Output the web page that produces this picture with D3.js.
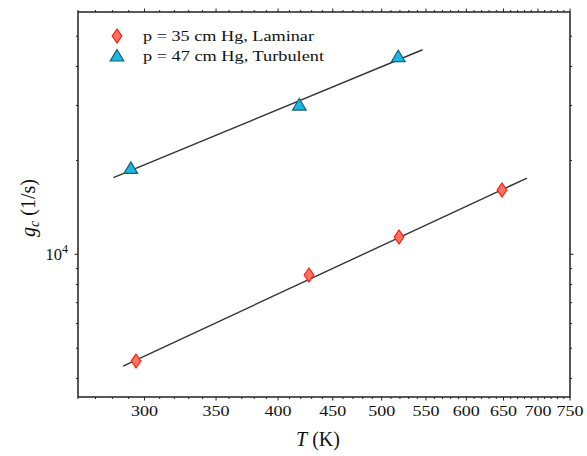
<!DOCTYPE html>
<html>
<head>
<meta charset="utf-8">
<script src="https://cdn.jsdelivr.net/npm/d3@7"></script>
<style>
body { margin: 0; background: #fff; }
text { font-family: "Liberation Serif", "DejaVu Serif", serif; fill: #111; }
</style>
</head>
<body>
<div id="chart"></div>
<script>
// data
var lamT = [294.6, 427.5, 519, 647.8]
var lamG = [4552, 8583, 11362, 16072]
var turT = [291.3, 418.7, 518.2]
var turG = [18864, 30097, 42990]
// fitted lines, end points
var lamFitT = [286.5, 683.7]
var lamFitG = [4385, 17560]
var turFitT = [280.6, 546]
var turFitG = [17600, 45265]
var xTicks = [300, 350, 400, 450, 500, 550, 600, 650, 700, 750]
var legendLabels = ["p = 35 cm Hg, Laminar", "p = 47 cm Hg, Turbulent"]

var W = 587, H = 456
var m = {left: 78, right: 17, top: 12, bottom: 59}

var svg = d3.select("#chart").append("svg")
  .attr("width", W)
  .attr("height", H)

var x = d3.scaleLog().domain([260, 750]).range([m.left, W - m.right])
var y = d3.scaleLog().domain([3489, 59800]).range([H - m.bottom, m.top])

var x0 = m.left, x1 = W - m.right, y0 = H - m.bottom, y1 = m.top

// minor ticks every 10 K
var xMinor = d3.range(260, 751, 10).filter(function(d) { return xTicks.indexOf(d) < 0 })
var yMinor = [4000, 5000, 6000, 7000, 8000, 9000, 20000, 30000, 40000, 50000]
var yMajor = [10000]

var ticks = svg.append("g").attr("stroke", "#222").attr("stroke-width", 1)
function hTick(v, len) {
  ticks.append("line").attr("x1", x(v)).attr("x2", x(v)).attr("y1", y0).attr("y2", y0 + len)
  ticks.append("line").attr("x1", x(v)).attr("x2", x(v)).attr("y1", y1).attr("y2", y1 - len)
}
function vTick(v, len) {
  ticks.append("line").attr("y1", y(v)).attr("y2", y(v)).attr("x1", x0).attr("x2", x0 - len)
  ticks.append("line").attr("y1", y(v)).attr("y2", y(v)).attr("x1", x1).attr("x2", x1 + len)
}
xTicks.forEach(function(d) { hTick(d, 3.5) })
xMinor.forEach(function(d) { hTick(d, 2) })
yMajor.forEach(function(d) { vTick(d, 3.5) })
yMinor.forEach(function(d) { vTick(d, 2) })

// frame
svg.append("rect")
  .attr("x", x0).attr("y", y1)
  .attr("width", x1 - x0).attr("height", y0 - y1)
  .attr("fill", "none")
  .attr("stroke", "#222")
  .attr("stroke-width", 1.5)

// tick labels
svg.selectAll(".xl").data(xTicks).enter().append("text")
  .attr("x", function(d) { return x(d) })
  .attr("y", y0 + 19)
  .attr("text-anchor", "middle")
  .attr("font-size", 14.5)
  .attr("textLength", 27)
  .attr("lengthAdjust", "spacingAndGlyphs")
  .text(function(d) { return d })

var yl = svg.append("text")
  .attr("x", x0 - 10)
  .attr("y", y(10000) + 6)
  .attr("text-anchor", "end")
  .attr("font-size", 16.5)
yl.append("tspan").text("10")
yl.append("tspan").attr("dy", -7).attr("font-size", 12).text("4")

// axis titles
var xt = svg.append("text")
  .attr("x", 318)
  .attr("y", H - 10)
  .attr("text-anchor", "middle")
  .attr("font-size", 20)
xt.append("tspan").attr("font-style", "italic").text("T")
xt.append("tspan").text("\u00a0(K)")

var yt = svg.append("text")
  .attr("transform", "translate(35,208) rotate(-90)")
  .attr("text-anchor", "middle")
  .attr("font-size", 20)
yt.append("tspan").attr("font-style", "italic").text("g")
yt.append("tspan").attr("font-style", "italic").attr("font-size", 14).attr("dy", 4).text("c")
yt.append("tspan").attr("dy", -4).text("\u00a0(1/s)")

// fit lines
var line = d3.line()
  .x(function(d) { return x(d[0]) })
  .y(function(d) { return y(d[1]) })

svg.append("path")
  .attr("d", line(d3.zip(lamFitT, lamFitG)))
  .attr("fill", "none").attr("stroke", "#333").attr("stroke-width", 1.4)
svg.append("path")
  .attr("d", line(d3.zip(turFitT, turFitG)))
  .attr("fill", "none").attr("stroke", "#333").attr("stroke-width", 1.4)

// markers
var diamond = "M0,-7L4.8,0L0,7L-4.8,0Z"
var tri = "M0,-6.5L6.8,5L-6.8,5Z"

function drawDiamond(g, cx, cy) {
  g.append("path").attr("d", diamond)
    .attr("transform", "translate(" + cx + "," + cy + ")")
    .attr("fill", "#f97362").attr("stroke", "#ff1a0a").attr("stroke-width", 1.2)
}
function drawTri(g, cx, cy) {
  g.append("path").attr("d", tri)
    .attr("transform", "translate(" + cx + "," + cy + ")")
    .attr("fill", "#1db6e0").attr("stroke", "#17607a").attr("stroke-width", 1.2)
}

var pts = svg.append("g")
d3.zip(lamT, lamG).forEach(function(d) { drawDiamond(pts, x(d[0]), y(d[1])) })
d3.zip(turT, turG).forEach(function(d) { drawTri(pts, x(d[0]), y(d[1])) })

// legend
var legendW = [171, 181]
var lg = svg.append("g")
drawDiamond(lg, 117, 36)
drawTri(lg, 117, 56)
lg.selectAll("text").data(legendLabels).enter().append("text")
  .attr("x", 143)
  .attr("y", function(d, i) { return 41 + i * 20 })
  .attr("font-size", 15)
  .attr("textLength", function(d, i) { return legendW[i] })
  .attr("lengthAdjust", "spacingAndGlyphs")
  .text(function(d) { return d })
</script>
</body>
</html>
